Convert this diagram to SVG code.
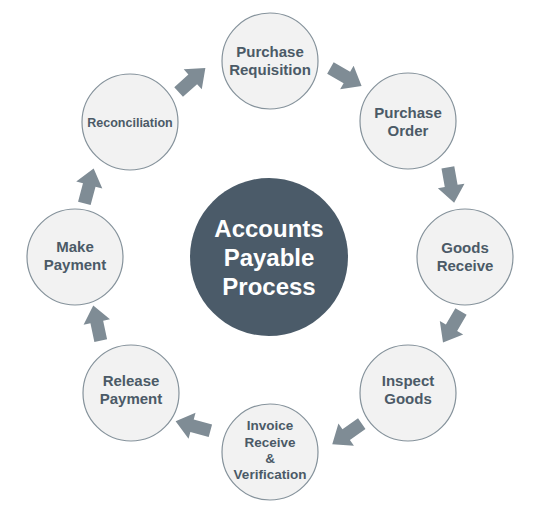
<svg xmlns="http://www.w3.org/2000/svg" width="540" height="514" viewBox="0 0 540 514">
<style>
.node{fill:#f2f2f2;stroke:#85929b;stroke-width:1.2}
.lbl{font-family:"Liberation Sans",Arial,sans-serif;font-weight:bold;font-size:15px;fill:#4b5a67;text-anchor:middle}
.ctr{font-family:"Liberation Sans",Arial,sans-serif;font-weight:bold;font-size:24px;fill:#ffffff;text-anchor:middle}
.arr{fill:#7f8c95}
</style>
<defs>
<path id="ar" d="M-18,-6.5 L1,-6.5 L1,-13.5 L18,0 L1,13.5 L1,6.5 L-18,6.5 Z"/>
</defs>
<rect width="540" height="514" fill="#ffffff"/>
<g id="connectors" class="arr">
<use href="#ar" transform="translate(346,77) rotate(30)"/>
<use href="#ar" transform="translate(451,185) rotate(80)"/>
<use href="#ar" transform="translate(452,327) rotate(120)"/>
<use href="#ar" transform="translate(347,434) rotate(145)"/>
<use href="#ar" transform="translate(193,426) rotate(195)"/>
<use href="#ar" transform="translate(97,323) rotate(258)"/>
<use href="#ar" transform="translate(89,186) rotate(285)"/>
<use href="#ar" transform="translate(192,80) rotate(318)"/>
</g>
<g id="center">
<circle cx="269" cy="257" r="79" fill="#4b5b69"/>
<text class="ctr" x="269" y="237">Accounts</text>
<text class="ctr" x="269" y="266">Payable</text>
<text class="ctr" x="269" y="295">Process</text>
</g>
<g id="purchase-requisition">
<circle class="node" cx="270" cy="61" r="48"/>
<text class="lbl" x="270" y="57">Purchase</text>
<text class="lbl" x="270" y="75">Requisition</text>
</g>
<g id="purchase-order">
<circle class="node" cx="408" cy="121" r="48"/>
<text class="lbl" x="408" y="118">Purchase</text>
<text class="lbl" x="408" y="136">Order</text>
</g>
<g id="goods-receive">
<circle class="node" cx="465" cy="257" r="48"/>
<text class="lbl" x="465" y="253">Goods</text>
<text class="lbl" x="465" y="271">Receive</text>
</g>
<g id="inspect-goods">
<circle class="node" cx="408" cy="393" r="48"/>
<text class="lbl" x="408" y="386">Inspect</text>
<text class="lbl" x="408" y="404">Goods</text>
</g>
<g id="invoice">
<circle class="node" cx="270" cy="452" r="48"/>
<text class="lbl" x="270" y="430" style="font-size:13.5px">Invoice</text>
<text class="lbl" x="270" y="447" style="font-size:13.5px">Receive</text>
<text class="lbl" x="270" y="463" style="font-size:13.5px">&amp;</text>
<text class="lbl" x="270" y="479" style="font-size:13.5px">Verification</text>
</g>
<g id="release-payment">
<circle class="node" cx="131" cy="393" r="48"/>
<text class="lbl" x="131" y="386">Release</text>
<text class="lbl" x="131" y="404">Payment</text>
</g>
<g id="make-payment">
<circle class="node" cx="75" cy="257" r="48"/>
<text class="lbl" x="75" y="252">Make</text>
<text class="lbl" x="75" y="270">Payment</text>
</g>
<g id="reconciliation">
<circle class="node" cx="130" cy="122" r="48"/>
<text class="lbl" x="130" y="127" style="font-size:12.5px">Reconciliation</text>
</g>
</svg>
